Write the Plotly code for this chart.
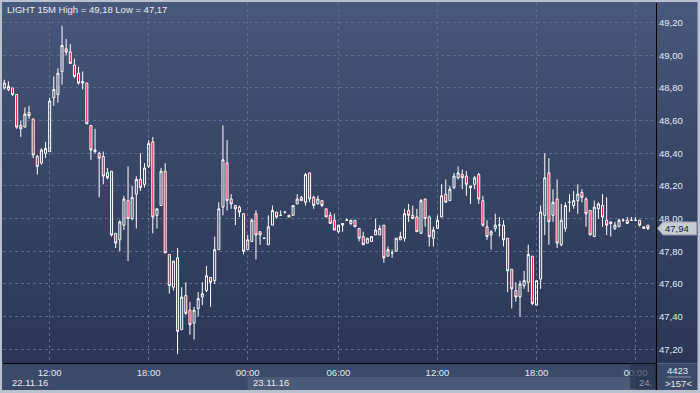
import pandas as pd
import plotly.graph_objects as go

# ---------------- data (15-minute bars, LIGHT) ----------------
OPEN = [48.80, 48.79, 48.80, 48.76, 48.57, 48.56, 48.65, 48.61, 48.38, 48.34,
        48.40, 48.41, 48.74, 48.76, 48.90, 49.04, 49.02, 48.94, 48.89, 48.83,
        48.83, 48.57, 48.41, 48.40, 48.38, 48.28, 48.29, 47.91, 47.87, 47.96,
        48.11, 48.00, 48.15, 48.24, 48.21, 48.32, 48.47, 48.02, 48.08, 48.29,
        47.78, 47.58, 47.76, 47.32, 47.53, 47.44, 47.36, 47.45, 47.52, 47.56,
        47.64, 47.62, 47.81, 48.07, 48.34, 48.12, 48.08, 48.07, 48.03, 47.81,
        47.86, 48.03, 47.92, 47.88, 47.84, 47.96, 48.04, 48.02, 48.04, 48.02,
        48.02, 48.09, 48.13, 48.10, 48.28, 48.13, 48.09, 48.11, 48.06, 48.02,
        47.99, 47.92, 47.96, 47.99, 47.97, 47.99, 47.94, 47.89, 47.85, 47.86,
        47.90, 47.90, 47.96, 47.77, 47.79, 47.80, 47.87, 47.88, 48.05, 48.02,
        48.01, 47.91, 48.12, 48.01, 47.88, 47.94, 48.01, 48.15, 48.11, 48.19,
        48.25, 48.27, 48.26, 48.20, 48.21, 48.27, 48.11, 47.95, 47.90, 47.94,
        47.96, 47.96, 47.88, 47.69, 47.56, 47.52, 47.59, 47.61, 47.77, 47.47,
        47.63, 48.02, 48.28, 48.02, 48.12, 47.84, 47.94, 48.10, 48.08, 48.11,
        48.16, 48.12, 48.05, 47.89, 48.06, 48.08, 47.99, 47.98, 47.94, 47.95,
        47.99, 47.99, 47.99, 47.99, 47.99, 47.95, 47.96]
HIGH = [48.85, 48.84, 48.80, 48.76, 48.60, 48.68, 48.69, 48.61, 48.39, 48.43,
        48.47, 48.74, 48.87, 48.92, 49.18, 49.10, 49.07, 48.98, 48.93, 48.90,
        48.83, 48.57, 48.55, 48.41, 48.41, 48.31, 48.29, 47.91, 47.99, 48.14,
        48.32, 48.20, 48.26, 48.40, 48.34, 48.48, 48.50, 48.06, 48.31, 48.34,
        47.78, 47.74, 47.82, 47.58, 47.61, 47.49, 47.46, 47.55, 47.61, 47.71,
        47.64, 47.89, 48.10, 48.57, 48.48, 48.15, 48.08, 48.08, 48.03, 47.90,
        48.00, 48.05, 47.92, 47.88, 48.02, 48.08, 48.04, 48.05, 48.04, 48.02,
        48.08, 48.15, 48.14, 48.28, 48.28, 48.14, 48.14, 48.11, 48.06, 48.04,
        48.03, 47.96, 47.97, 48.00, 47.99, 47.99, 47.94, 47.92, 47.88, 47.89,
        48.00, 47.96, 47.96, 47.83, 47.81, 47.88, 47.92, 48.06, 48.09, 48.08,
        48.06, 48.12, 48.12, 48.02, 47.95, 48.02, 48.21, 48.24, 48.20, 48.28,
        48.32, 48.30, 48.29, 48.20, 48.26, 48.28, 48.14, 47.99, 47.93, 48.03,
        48.01, 47.99, 47.88, 47.69, 47.61, 47.62, 47.68, 47.84, 47.77, 47.62,
        48.08, 48.40, 48.37, 48.18, 48.24, 48.09, 48.10, 48.15, 48.17, 48.21,
        48.18, 48.13, 48.05, 48.11, 48.10, 48.15, 48.13, 47.98, 47.98, 48.00,
        48.00, 48.01, 48.01, 48.01, 47.99, 47.95, 47.96]
LOW = [48.79, 48.78, 48.75, 48.55, 48.50, 48.56, 48.61, 48.37, 48.27, 48.33,
       48.37, 48.41, 48.69, 48.71, 48.82, 49.00, 48.95, 48.86, 48.82, 48.79,
       48.58, 48.36, 48.40, 48.13, 48.21, 48.24, 47.89, 47.82, 47.80, 47.93,
       47.74, 47.99, 47.94, 48.17, 48.19, 48.31, 47.91, 47.94, 48.08, 47.79,
       47.54, 47.56, 47.17, 47.32, 47.41, 47.29, 47.26, 47.40, 47.47, 47.55,
       47.46, 47.60, 47.81, 48.02, 48.05, 48.06, 47.96, 48.01, 47.78, 47.81,
       47.86, 47.75, 47.84, 47.88, 47.84, 47.96, 48.00, 48.02, 48.03, 48.01,
       48.02, 48.09, 48.11, 48.08, 48.10, 48.06, 48.09, 48.07, 48.01, 47.97,
       47.93, 47.91, 47.92, 47.99, 47.96, 47.95, 47.86, 47.84, 47.85, 47.86,
       47.90, 47.90, 47.73, 47.77, 47.76, 47.80, 47.87, 47.86, 47.98, 48.00,
       47.92, 47.91, 47.95, 47.83, 47.83, 47.94, 48.01, 48.10, 48.11, 48.18,
       48.24, 48.18, 48.14, 48.09, 48.18, 48.09, 47.95, 47.87, 47.81, 47.92,
       47.89, 47.83, 47.55, 47.45, 47.49, 47.40, 47.57, 47.55, 47.47, 47.47,
       47.57, 47.90, 47.84, 47.98, 47.82, 47.83, 47.92, 48.04, 48.06, 48.03,
       48.10, 47.95, 47.90, 47.89, 48.00, 47.95, 47.90, 47.89, 47.93, 47.95,
       47.98, 47.97, 47.99, 47.99, 47.95, 47.94, 47.93]
CLOSE = [48.83, 48.81, 48.76, 48.56, 48.55, 48.64, 48.63, 48.39, 48.32, 48.42,
         48.43, 48.72, 48.79, 48.89, 49.06, 49.02, 48.95, 48.87, 48.83, 48.84,
         48.58, 48.42, 48.42, 48.37, 48.26, 48.25, 47.90, 47.85, 47.98, 48.12,
         48.00, 48.13, 48.24, 48.19, 48.31, 48.46, 48.01, 48.06, 48.29, 47.79,
         47.59, 47.74, 47.31, 47.52, 47.42, 47.35, 47.44, 47.51, 47.54, 47.65,
         47.61, 47.81, 48.06, 48.36, 48.11, 48.09, 48.06, 48.04, 47.80, 47.87,
         47.99, 47.90, 47.90, 47.88, 47.95, 48.05, 48.01, 48.02, 48.04, 48.01,
         48.08, 48.12, 48.11, 48.27, 48.12, 48.08, 48.12, 48.08, 48.01, 47.97,
         47.93, 47.96, 47.97, 47.99, 47.99, 47.95, 47.88, 47.84, 47.88, 47.89,
         47.93, 47.94, 47.76, 47.81, 47.79, 47.88, 47.89, 48.03, 48.02, 48.00,
         47.92, 48.11, 48.00, 47.89, 47.93, 47.99, 48.14, 48.10, 48.18, 48.26,
         48.28, 48.25, 48.21, 48.19, 48.25, 48.12, 47.96, 47.89, 47.92, 47.96,
         47.96, 47.87, 47.68, 47.57, 47.52, 47.60, 47.62, 47.78, 47.48, 47.62,
         48.04, 48.25, 47.98, 48.10, 47.85, 47.99, 48.08, 48.10, 48.11, 48.15,
         48.13, 48.03, 47.90, 48.07, 48.09, 48.01, 47.96, 47.97, 47.96, 47.99,
         47.99, 47.97, 47.99, 47.99, 47.96, 47.94, 47.94]

SYMBOL = "LIGHT"
TIMEFRAME = "15M"
BAR_COUNT_TOTAL = "4423"
BAR_COUNT_SHOWN = ">157<"
DATE_LABELS = ["22.11.16", "23.11.16", "24."]
TICK_HOURS = [0, 6, 12, 18]

# bar times: 15-minute bars with a 30-minute session break after 00:45
_t = pd.date_range("2016-11-22 09:15", "2016-11-23 00:45", freq="15min")
_t = _t.append(pd.date_range("2016-11-23 01:30", periods=len(OPEN) - len(_t), freq="15min"))
TIMES = [t.strftime("%Y-%m-%d %H:%M") for t in _t]

TICKVALS = [s for s, t in zip(TIMES, _t) if t.minute == 0 and t.hour in TICK_HOURS]
TICKTEXT = [s[-5:] for s in TICKVALS]

# ---------------- geometry / style ----------------
W, H = 700, 393
ML, MR, MT, MB = 3, 44, 3, 30
PW, PH = W - ML - MR, H - MT - MB
FONT = "Liberation Sans, Arial, sans-serif"
FS = 9.5
TXT = "#e6ebf2"
XR = [-0.31, len(OPEN) + 0.96]
YR = [47.116, 49.32]


def px(xp):
    return (xp - ML) / PW


def py(yp):
    return (H - MB - yp) / PH


def ix(i):
    return (i - XR[0]) / (XR[1] - XR[0])


def fmt(v):
    return f"{v:.2f}".replace(".", ",")


fig = go.Figure()
fig.add_trace(go.Candlestick(
    x=TIMES, open=OPEN, high=HIGH, low=LOW, close=CLOSE,
    increasing=dict(line=dict(color="#ffffff", width=1), fillcolor="rgba(0,0,0,0)"),
    decreasing=dict(line=dict(color="#ffffff", width=1), fillcolor="#e8083a"),
    whiskerwidth=0, hoverinfo="skip", showlegend=False,
))

shapes = []
stops = [(2, (73, 89, 123)), (60, (66, 81, 114)), (145, (58, 72, 104)),
         (250, (50, 63, 94)), (364, (43, 55, 85))]


def col_at(y):
    for (y0, c0), (y1, c1) in zip(stops[:-1], stops[1:]):
        if y0 <= y <= y1:
            f = (y - y0) / (y1 - y0)
            return "rgb(%d,%d,%d)" % tuple(round(a + (b - a) * f) for a, b in zip(c0, c1))
    return "rgb(%d,%d,%d)" % stops[-1][1]


step = 3
y = 2
while y < 363:
    y2 = min(y + step, 363.5)
    shapes.append(dict(type="rect", xref="paper", yref="paper", layer="below",
                       x0=px(2), x1=px(697.5), y0=py(y2), y1=py(y),
                       fillcolor=col_at((y + y2) / 2), line=dict(width=0)))
    y = y2
shapes.append(dict(type="rect", xref="paper", yref="paper", layer="below",
                   x0=px(2), x1=px(697.5), y0=py(390), y1=py(363.5),
                   fillcolor="#3b4a68", line=dict(width=0)))
i_mid = TIMES.index("2016-11-23 00:00")
i_end = TIMES.index("2016-11-24 00:00")
shapes.append(dict(type="rect", xref="paper", yref="paper", layer="below",
                   x0=ix(i_mid), x1=ix(i_end), y0=py(390), y1=py(377),
                   fillcolor="#4b5a77", line=dict(width=0)))
shapes.append(dict(type="rect", xref="paper", yref="paper", layer="above",
                   x0=px(630), x1=1, y0=py(389), y1=py(363.5),
                   fillcolor="rgba(42,54,80,0.72)", line=dict(width=0)))
shapes.append(dict(type="line", xref="paper", yref="paper", layer="above",
                   x0=1.0007, x1=1.0007, y0=py(390), y1=0,
                   line=dict(color="#000000", width=1.3)))
shapes.append(dict(type="line", xref="paper", yref="paper", layer="above",
                   x0=px(667), x1=px(691), y0=py(377), y1=py(377),
                   line=dict(color="#8894aa", width=1)))
shapes.append(dict(type="path", xref="paper", yref="y", layer="above",
                   xsizemode="pixel", ysizemode="pixel", xanchor=1, yanchor=CLOSE[-1],
                   path="M 1.5,0 L 7,6.5 L 40.5,6.5 L 40.5,-6.5 L 7,-6.5 Z",
                   fillcolor="#c6cbd4", line=dict(color="#98a1b0", width=1)))

ann = []
ann.append(dict(xref="paper", yref="paper", x=px(5), y=py(9), xanchor="left", yanchor="middle",
                text=f"{SYMBOL} {TIMEFRAME} High = {fmt(max(HIGH))} Low = {fmt(min(LOW))}",
                showarrow=False, font=dict(family=FONT, size=FS, color=TXT)))
ann.append(dict(xref="paper", yref="y", x=1, y=CLOSE[-1], xanchor="left", yanchor="middle",
                xshift=7, text=fmt(CLOSE[-1]), showarrow=False,
                font=dict(family=FONT, size=FS, color="#1c2233")))
ann.append(dict(xref="paper", yref="paper", x=px(10), y=py(382.5), xanchor="left", yanchor="middle",
                text=DATE_LABELS[0], showarrow=False, font=dict(family=FONT, size=FS, color=TXT)))
ann.append(dict(xref="paper", yref="paper", x=ix(i_mid), y=py(382.5), xanchor="left", yanchor="middle",
                xshift=3, text=DATE_LABELS[1], showarrow=False, font=dict(family=FONT, size=FS, color=TXT)))
ann.append(dict(xref="paper", yref="paper", x=px(654), y=py(382.5), xanchor="right", yanchor="middle",
                text=DATE_LABELS[2], showarrow=False, font=dict(family=FONT, size=FS, color="#8e99ac")))
ann.append(dict(xref="paper", yref="paper", x=px(677.5), y=py(370), xanchor="center", yanchor="middle",
                text=BAR_COUNT_TOTAL, showarrow=False, font=dict(family=FONT, size=FS, color=TXT)))
ann.append(dict(xref="paper", yref="paper", x=px(678), y=py(383.5), xanchor="center", yanchor="middle",
                text=BAR_COUNT_SHOWN.replace("<", "&lt;").replace(">", "&gt;"), showarrow=False,
                font=dict(family=FONT, size=FS, color=TXT)))

fig.update_layout(
    width=W, height=H, margin=dict(l=ML, r=MR, t=MT, b=MB, pad=0),
    paper_bgcolor="#b7c1d0", plot_bgcolor="rgba(0,0,0,0)",
    separators=",.", boxgap=0.3, showlegend=False, hovermode=False,
    shapes=shapes, annotations=ann,
    xaxis=dict(type="category", range=XR, tickvals=TICKVALS, ticktext=TICKTEXT,
               rangeslider=dict(visible=False), showgrid=True, gridcolor="#5e6d8c",
               griddash="dot", gridwidth=1, ticks="", showline=True, linecolor="#000000",
               linewidth=1.3, zeroline=False, automargin=False,
               tickfont=dict(family=FONT, size=FS, color=TXT), fixedrange=True),
    yaxis=dict(side="right", range=YR, dtick=0.2, tick0=47.2, tickformat=".2f",
               showgrid=True, gridcolor="#5e6d8c", griddash="dot", gridwidth=1,
               ticks="", showline=True, linecolor="#000000", linewidth=1.3, zeroline=False,
               automargin=False,
               tickfont=dict(family=FONT, size=FS, color=TXT), fixedrange=True),
)

fig.write_html("out.html", config={"displayModeBar": False},
               post_script="document.body.style.margin='0';document.body.style.overflow='hidden';")
